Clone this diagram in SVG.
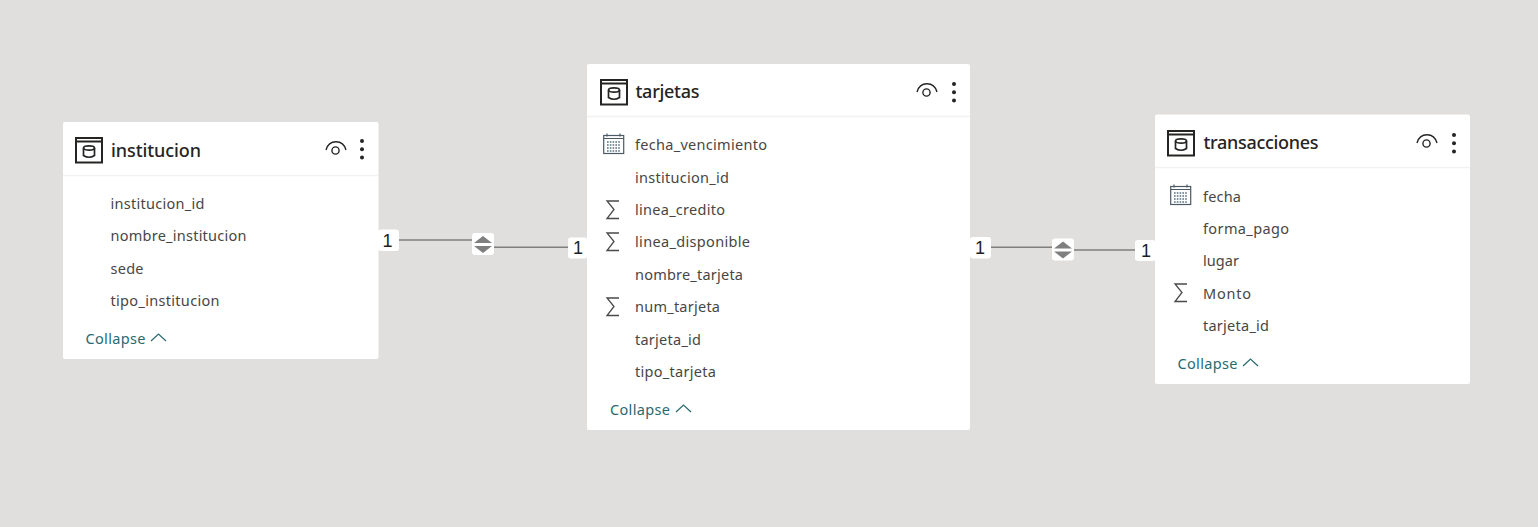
<svg xmlns="http://www.w3.org/2000/svg" width="1538" height="527" viewBox="0 0 1538 527">
<style>
text{font-family:"Noto Sans","Open Sans","Liberation Sans",sans-serif}
.card{fill:#fff}
.sep{stroke:#f3f2f1;stroke-width:1.5;fill:none}
.title{font-size:18px;font-weight:500;fill:#252423}
.f{font-size:14.500px;fill:#484644}
.c{font-size:14.500px;fill:#2a6a6f}
.ic{fill:none;stroke:#252423}
.sig{fill:none;stroke:#4a4a4a;stroke-width:1.3}
.line{stroke:#7f7f7f;stroke-width:1.4;fill:none}
.badge{fill:#fff}
.one{font-size:18px;fill:#201f1e;text-anchor:middle;font-family:"Liberation Sans",sans-serif}
.tri{fill:#7f7f7f}
</style>
<defs>
<g id="tbl"><rect x="1" y="1" width="26" height="24.500" class="ic" stroke-width="2"/><path d="M1 4.500H27" class="ic" stroke-width="2"/><ellipse cx="14" cy="11" rx="5.500" ry="2.200" class="ic" stroke-width="1.700"/><path d="M8.500 11V18.500Q14 22 19.500 18.500V11" class="ic" stroke-width="1.700"/></g>
<g id="eye"><path d="M1 9C4 -2 18 -2 21 9" fill="none" stroke="#252423" stroke-width="1.400"/><circle cx="10.500" cy="9.500" r="3.600" fill="none" stroke="#252423" stroke-width="1.400"/></g>
<g id="dots" fill="#252423"><circle cx="0" cy="0" r="2"/><circle cx="0" cy="8.200" r="2"/><circle cx="0" cy="16.400" r="2"/></g>
<path id="sigma" class="sig" d="M13 1H1L8 9.500L1 18.500H13"/>
<g id="cal"><rect x="0.700" y="2.500" width="20" height="18" fill="none" stroke="#4c5a66" stroke-width="1.200"/><path d="M0.700 5.500H20.700M4 0.500V3.500M17 0.500V3.500" fill="none" stroke="#4c5a66" stroke-width="1.200"/><path d="M4 9H18M4 12H18M4 15H18M4 18H18" stroke="#55707f" stroke-width="1.400" stroke-dasharray="1.600 1.200" fill="none"/></g>
<path id="chev" d="M0 8L7.500 1L15 8" fill="none" stroke="#2a6a6f" stroke-width="1.200"/>
<g id="swap"><rect x="0" y="0" width="22" height="22" rx="3" fill="#fff"/><path class="tri" d="M11 3L20 10H2Z"/><path class="tri" d="M11 20L20 13H2Z"/></g>
</defs>
<rect width="1538" height="527" fill="#e1dfdd"/>

<g id="connectors">
<g id="rel1">
<path class="line" d="M399 240H472M494 247.300H568"/>
<use href="#swap" x="472" y="233"/>
<rect class="badge" x="378" y="229.500" width="21" height="21.500" rx="3"/><text class="one" x="387.500" y="247">1</text>
<rect class="badge" x="568" y="237.500" width="19.500" height="21" rx="3"/><text class="one" x="578" y="254">1</text>
</g>
<g id="rel2">
<path class="line" d="M991 247.300H1052M1074 250H1135"/>
<use href="#swap" x="1052" y="238.500"/>
<rect class="badge" x="970" y="237" width="21" height="21.500" rx="3"/><text class="one" x="980" y="254">1</text>
<rect class="badge" x="1135" y="240" width="20.500" height="21" rx="3"/><text class="one" x="1146" y="257">1</text>
</g>
</g>

<g id="institucion">
<rect class="card" x="63" y="122" width="315.500" height="237" rx="2"/>
<path class="sep" d="M63 175.500H378.500"/>
<use href="#tbl" x="75" y="137"/>
<text class="title" x="111" y="157" textLength="90">institucion</text>
<use href="#eye" x="325" y="141"/>
<use href="#dots" x="362" y="141"/>
<text class="f" x="110.500" y="208.500" textLength="94">institucion_id</text>
<text class="f" x="110.500" y="241" textLength="136">nombre_institucion</text>
<text class="f" x="110.500" y="274" textLength="33">sede</text>
<text class="f" x="110.500" y="306" textLength="109">tipo_institucion</text>
<text class="c" x="85.500" y="344" textLength="60">Collapse</text>
<use href="#chev" x="151" y="333"/>
</g>

<g id="tarjetas">
<rect class="card" x="587" y="64" width="383" height="366" rx="2"/>
<path class="sep" d="M587 116.500H970"/>
<use href="#tbl" x="600" y="79"/>
<text class="title" x="635.500" y="98" textLength="64">tarjetas</text>
<use href="#eye" x="916" y="83"/>
<use href="#dots" x="954" y="84"/>
<use href="#cal" x="603" y="133"/>
<text class="f" x="635" y="150" textLength="132">fecha_vencimiento</text>
<text class="f" x="635" y="182.500" textLength="94">institucion_id</text>
<use href="#sigma" x="606" y="200"/>
<text class="f" x="635" y="215" textLength="90">linea_credito</text>
<use href="#sigma" x="606" y="232"/>
<text class="f" x="635" y="247" textLength="115">linea_disponible</text>
<text class="f" x="635" y="280" textLength="108">nombre_tarjeta</text>
<use href="#sigma" x="606" y="297"/>
<text class="f" x="635" y="312" textLength="85">num_tarjeta</text>
<text class="f" x="635" y="345" textLength="66">tarjeta_id</text>
<text class="f" x="635" y="377" textLength="81">tipo_tarjeta</text>
<text class="c" x="610" y="415" textLength="60">Collapse</text>
<use href="#chev" x="676" y="404"/>
</g>

<g id="transacciones">
<rect class="card" x="1155" y="114.500" width="315" height="269.500" rx="2"/>
<path class="sep" d="M1155 167.500H1470"/>
<use href="#tbl" x="1167" y="130"/>
<text class="title" x="1203.500" y="149" textLength="115">transacciones</text>
<use href="#eye" x="1416" y="134"/>
<use href="#dots" x="1454" y="135"/>
<use href="#cal" x="1170" y="184"/>
<text class="f" x="1203" y="202" textLength="38">fecha</text>
<text class="f" x="1203" y="234" textLength="86">forma_pago</text>
<text class="f" x="1203" y="266" textLength="36">lugar</text>
<use href="#sigma" x="1174" y="283"/>
<text class="f" x="1203" y="299" textLength="48">Monto</text>
<text class="f" x="1203" y="331" textLength="66">tarjeta_id</text>
<text class="c" x="1177.500" y="369" textLength="60">Collapse</text>
<use href="#chev" x="1243" y="358"/>
</g>
</svg>
